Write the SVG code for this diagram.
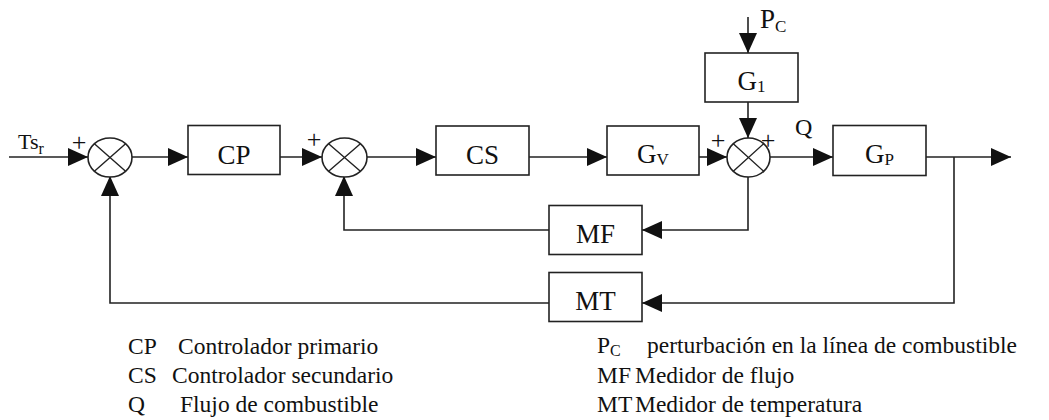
<svg xmlns="http://www.w3.org/2000/svg" width="1049" height="420" viewBox="0 0 1049 420" font-family="'Liberation Serif', 'Times New Roman', serif">
  <style>
    .blk { fill: #fff; stroke: #222; stroke-width: 1.6; }
    .x { stroke: #222; stroke-width: 1.4; }
    #connectors path { fill: none; stroke: #222; stroke-width: 1.6; }
  </style>
  <defs>
    <marker id="arrow" markerUnits="userSpaceOnUse" markerWidth="20" markerHeight="18" refX="20" refY="9" orient="auto">
      <path d="M0,0 L20,9 L0,18 Z" fill="#111"/>
    </marker>
  </defs>

  <rect width="1049" height="420" fill="#fff"/>

  <!-- signal lines -->
  <g id="connectors">
    <path d="M9,157 H88" marker-end="url(#arrow)"/>
    <path d="M132,157 H188" marker-end="url(#arrow)"/>
    <path d="M280,157 H322" marker-end="url(#arrow)"/>
    <path d="M367,157 H436" marker-end="url(#arrow)"/>
    <path d="M529,157 H607" marker-end="url(#arrow)"/>
    <path d="M699,157 H727" marker-end="url(#arrow)"/>
    <path d="M748,17 V53" marker-end="url(#arrow)"/>
    <path d="M748,102 V138" marker-end="url(#arrow)"/>
    <path d="M770,157 H833" marker-end="url(#arrow)"/>
    <path d="M926,157 H1011" marker-end="url(#arrow)"/>
    <path d="M748,177 V230 H642" marker-end="url(#arrow)"/>
    <path d="M549,230 H344 V176" marker-end="url(#arrow)"/>
    <path d="M954,157 V303 H642" marker-end="url(#arrow)"/>
    <path d="M549,303 H110 V176" marker-end="url(#arrow)"/>
  </g>

  <!-- summing junctions -->
  <g id="sum1">
    <ellipse class="blk" cx="110" cy="157.5" rx="22" ry="19.5"/>
    <path class="x" d="M94.4,143.7 L125.6,171.3 M125.6,143.7 L94.4,171.3"/>
  </g>
  <g id="sum2">
    <ellipse class="blk" cx="344.5" cy="157.5" rx="22.5" ry="19.5"/>
    <path class="x" d="M328.6,143.7 L360.4,171.3 M360.4,143.7 L328.6,171.3"/>
  </g>
  <g id="sum3">
    <ellipse class="blk" cx="748.5" cy="157.5" rx="21.5" ry="19.5"/>
    <path class="x" d="M733.3,143.7 L763.7,171.3 M763.7,143.7 L733.3,171.3"/>
  </g>

  <!-- blocks -->
  <g id="blocks" font-size="27" text-anchor="middle" fill="#111">
    <g id="CP">
      <rect class="blk" x="188" y="125.5" width="92" height="49"/>
      <text x="234" y="163.5">CP</text>
    </g>
    <g id="CS">
      <rect class="blk" x="436" y="126" width="93" height="49"/>
      <text x="482.5" y="164">CS</text>
    </g>
    <g id="GV">
      <rect class="blk" x="607" y="126" width="92" height="49"/>
      <text x="653" y="163">G<tspan font-size="17" dy="2">V</tspan></text>
    </g>
    <g id="G1">
      <rect class="blk" x="705" y="53" width="93" height="49"/>
      <text x="751.5" y="90">G<tspan font-size="17" dy="2">1</tspan></text>
    </g>
    <g id="GP">
      <rect class="blk" x="833" y="125.5" width="93" height="50"/>
      <text x="879.5" y="163">G<tspan font-size="17" dy="2">P</tspan></text>
    </g>
    <g id="MF">
      <rect class="blk" x="549" y="205.5" width="93" height="49"/>
      <text x="595.5" y="243">MF</text>
    </g>
    <g id="MT">
      <rect class="blk" x="549" y="272.5" width="93" height="49"/>
      <text x="595.5" y="310">MT</text>
    </g>
  </g>

  <!-- signal names and signs -->
  <g id="signals" fill="#111">
    <text x="18" y="149" font-size="22">Ts<tspan font-size="16" dy="5">r</tspan></text>
    <text x="760" y="28" font-size="27">P<tspan font-size="17" dy="4">C</tspan></text>
    <text x="795" y="135" font-size="24">Q</text>
    <g font-size="26" text-anchor="middle">
      <text x="79" y="150.5">+</text>
      <text x="314" y="147.5">+</text>
      <text x="718" y="148.5">+</text>
      <text x="768" y="148.5">+</text>
    </g>
  </g>

  <!-- legend -->
  <g id="legend" font-size="23.5" fill="#111">
    <text x="128" y="354">CP</text>
    <text x="178" y="354">Controlador primario</text>
    <text x="128" y="383">CS</text>
    <text x="172" y="383">Controlador secundario</text>
    <text x="128" y="412">Q</text>
    <text x="180" y="412">Flujo de combustible</text>
    <text x="597" y="353">P<tspan font-size="16" dy="3">C</tspan></text>
    <text x="647" y="353">perturbación en la línea de combustible</text>
    <text x="597" y="383">MF</text>
    <text x="635" y="383">Medidor de flujo</text>
    <text x="597" y="412">MT</text>
    <text x="635" y="412">Medidor de temperatura</text>
  </g>
</svg>
